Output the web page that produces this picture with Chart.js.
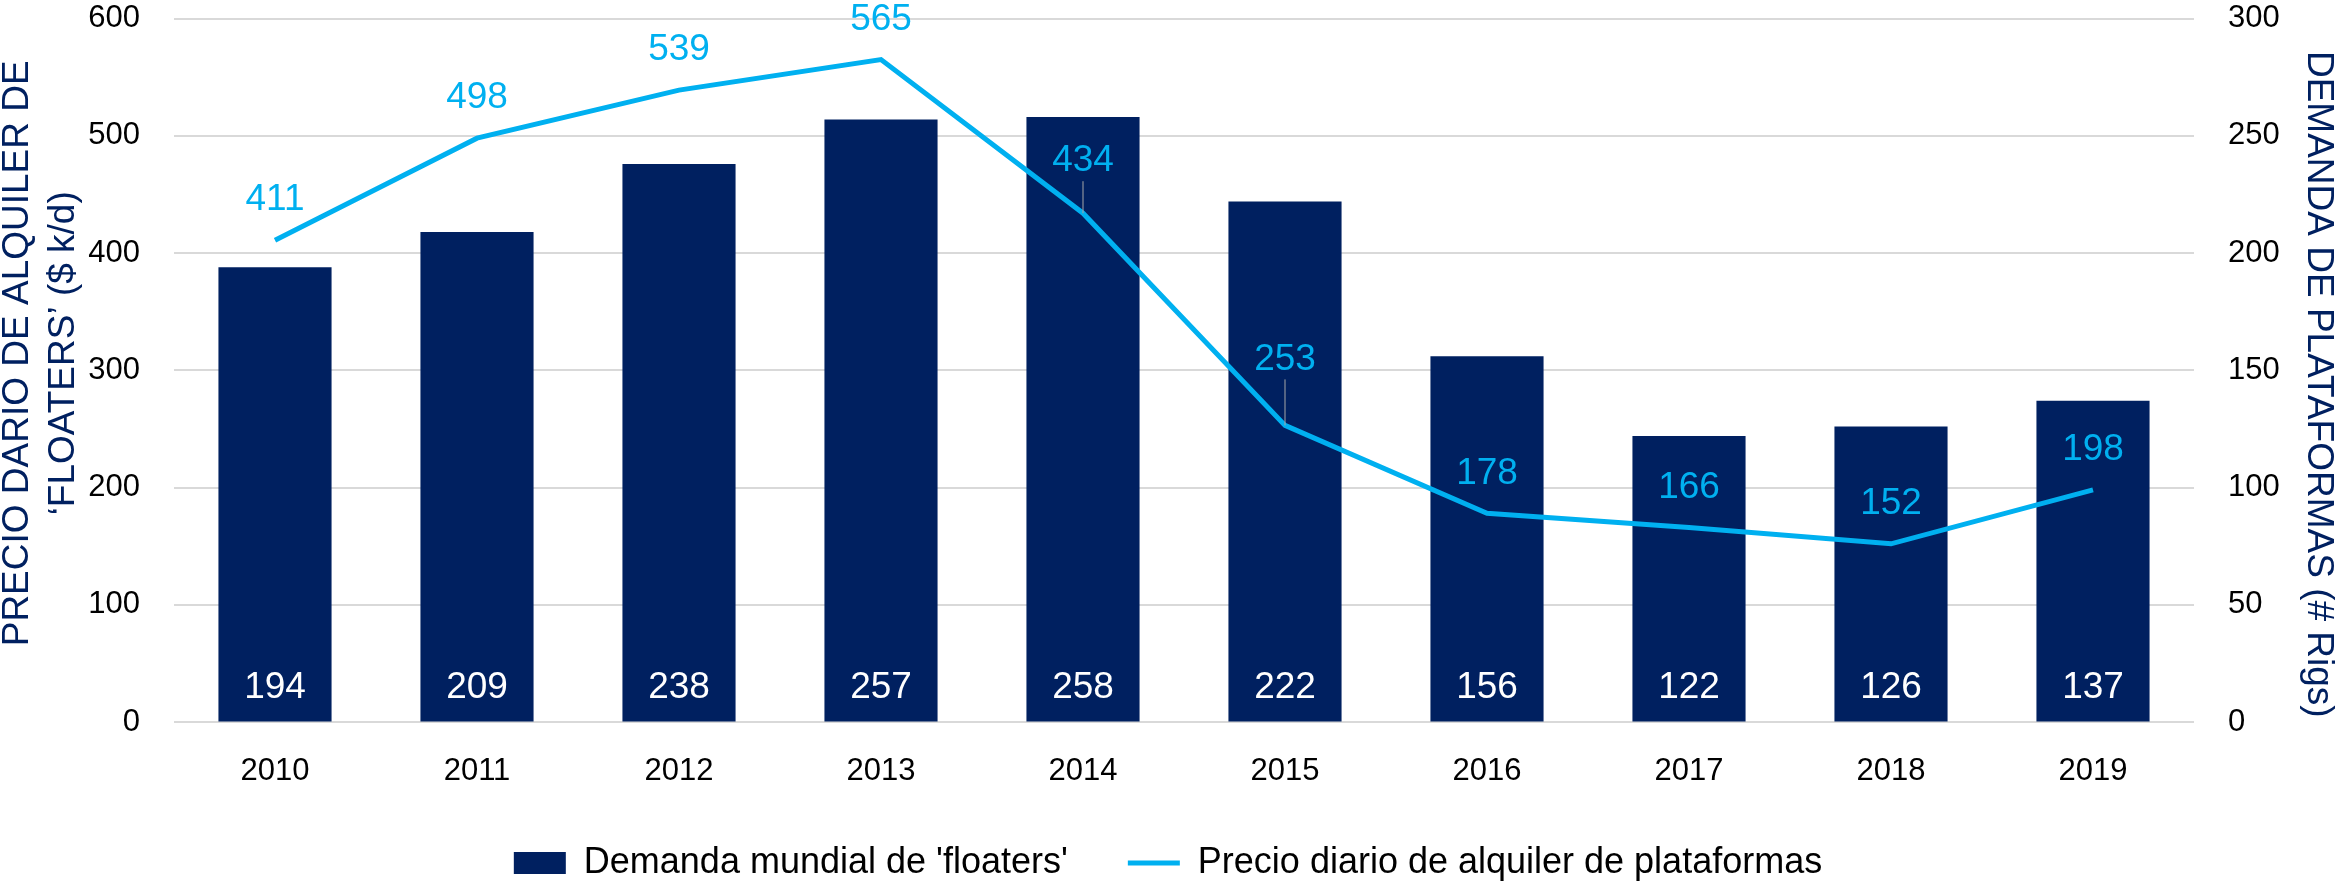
<!DOCTYPE html>
<html>
<head>
<meta charset="utf-8">
<script src="https://cdn.jsdelivr.net/npm/chart.js@4"></script>
<style>
    html, body { margin: 0; padding: 0; background: #ffffff; }
    #chart_container { width: 2336px; height: 883px; }
</style>
</head>
<body>
<div id="chart_container"><canvas id="chart"></canvas></div>
<script>
var years = ["2010", "2011", "2012", "2013", "2014", "2015", "2016", "2017", "2018", "2019"];
var floaters_demand = [194, 209, 238, 257, 258, 222, 156, 122, 126, 137];
var rig_price = [411, 498, 539, 565, 434, 253, 178, 166, 152, 198];

var left_ticks = [0, 100, 200, 300, 400, 500, 600];
var right_ticks = [0, 50, 100, 150, 200, 250, 300];

var left_title = ["PRECIO DARIO DE ALQUILER DE", "\u2018FLOATERS\u2019 ($ k/d)"];
var right_title = "DEMANDA DE PLATAFORMAS (# Rigs)";

var font_family = "'Liberation Sans', Arial, sans-serif";
var navy = "#002060";
var cyan = "#00B0F0";

//distance of the price labels above their point, a few are pushed up and get a leader line
var price_label_offset = [40, 40, 40, 40, 52, 66, 40, 40, 40, 40];
var price_label_leader = [false, false, false, false, true, true, false, false, false, false];

var value_labels = {
    id: "value_labels",
    afterDatasetsDraw: function(chart) {
        var ctx = chart.ctx;
        var bar_meta = chart.getDatasetMeta(0);
        var line_meta = chart.getDatasetMeta(1);

        ctx.save();
        ctx.textAlign = "center";
        ctx.textBaseline = "middle";
        ctx.font = "37px " + font_family;

        //bar values, white at the foot of each bar
        ctx.fillStyle = "#ffffff";
        bar_meta.data.forEach(function(bar, i) {
            ctx.fillText(floaters_demand[i], bar.x, bar.base - 34);
        });

        //price values above the line
        line_meta.data.forEach(function(point, i) {
            var label_y = point.y - price_label_offset[i];

            if (price_label_leader[i]) {
                ctx.strokeStyle = "#a6a6a6";
                ctx.lineWidth = 1;
                ctx.beginPath();
                ctx.moveTo(point.x, label_y + 20);
                ctx.lineTo(point.x, point.y);
                ctx.stroke();
            }

            ctx.fillStyle = cyan;
            ctx.fillText(rig_price[i], point.x, label_y);
        });
        ctx.restore();
    }
};

//axis titles, the left one sits a bit above the middle, the right one a bit below
var axis_titles = {
    id: "axis_titles",
    afterDraw: function(chart) {
        var ctx = chart.ctx;
        var area = chart.chartArea;
        var middle = (area.top + area.bottom) / 2;

        ctx.save();
        ctx.fillStyle = navy;
        ctx.font = "37px " + font_family;
        ctx.textAlign = "center";
        ctx.textBaseline = "middle";

        ctx.save();
        ctx.translate(18, middle - 17);
        ctx.rotate(-Math.PI / 2);
        ctx.fillText(left_title[0], 0, 0);
        ctx.fillText(left_title[1], 0, 46);
        ctx.restore();

        ctx.save();
        ctx.translate(chart.width - 18, middle + 14);
        ctx.rotate(Math.PI / 2);
        ctx.fillText(right_title, 0, 0);
        ctx.restore();

        ctx.restore();
    }
};

var chart = new Chart(document.getElementById("chart"), {
    type: "bar",
    data: {
        labels: years,
        datasets: [
            {
                type: "bar",
                label: "Demanda mundial de 'floaters'",
                data: floaters_demand,
                yAxisID: "y1",
                backgroundColor: navy,
                borderWidth: 0,
                barPercentage: 0.56,
                categoryPercentage: 1,
                pointStyle: "rect",
                order: 2
            },
            {
                type: "line",
                label: "Precio diario de alquiler de plataformas",
                data: rig_price,
                yAxisID: "y",
                borderColor: cyan,
                backgroundColor: cyan,
                borderWidth: 5,
                pointRadius: 0,
                tension: 0,
                pointStyle: "line",
                order: 1
            }
        ]
    },
    options: {
        responsive: true,
        maintainAspectRatio: false,
        animation: false,
        layout: {
            padding: { top: 0, left: 0, right: 0, bottom: -8 }
        },
        plugins: {
            tooltip: { enabled: false },
            legend: {
                position: "bottom",
                labels: {
                    usePointStyle: true,
                    pointStyleWidth: 52,
                    boxHeight: 22,
                    padding: 60,
                    color: "#000000",
                    font: { family: font_family, size: 36 },
                    sort: function(a, b) {
                        return a.datasetIndex - b.datasetIndex;
                    }
                }
            }
        },
        scales: {
            x: {
                grid: { display: false, drawTicks: false },
                border: { display: false },
                ticks: {
                    color: "#000000",
                    padding: 31,
                    font: { family: font_family, size: 31 }
                },
                afterFit: function(scale) {
                    scale.height = 63;
                }
            },
            y: {
                position: "left",
                min: 0,
                max: 600,
                afterBuildTicks: function(scale) {
                    scale.ticks = left_ticks.map(function(v) { return { value: v }; });
                },
                grid: {
                    color: "#d9d9d9",
                    lineWidth: 2,
                    drawTicks: true,
                    tickLength: 34,
                    tickColor: "rgba(0,0,0,0)"
                },
                border: { display: false },
                ticks: {
                    color: "#000000",
                    padding: 0,
                    font: { family: font_family, size: 31 }
                },
                afterFit: function(scale) {
                    scale.width = 174;
                }
            },
            y1: {
                position: "right",
                min: 0,
                max: 300,
                afterBuildTicks: function(scale) {
                    scale.ticks = right_ticks.map(function(v) { return { value: v }; });
                },
                grid: {
                    display: true,
                    drawOnChartArea: false,
                    drawTicks: true,
                    tickLength: 34,
                    color: "rgba(0,0,0,0)",
                    tickColor: "rgba(0,0,0,0)"
                },
                border: { display: false },
                ticks: {
                    color: "#000000",
                    padding: 0,
                    font: { family: font_family, size: 31 }
                },
                afterFit: function(scale) {
                    scale.width = 142;
                }
            }
        }
    },
    plugins: [value_labels, axis_titles]
});
</script>
</body>
</html>
